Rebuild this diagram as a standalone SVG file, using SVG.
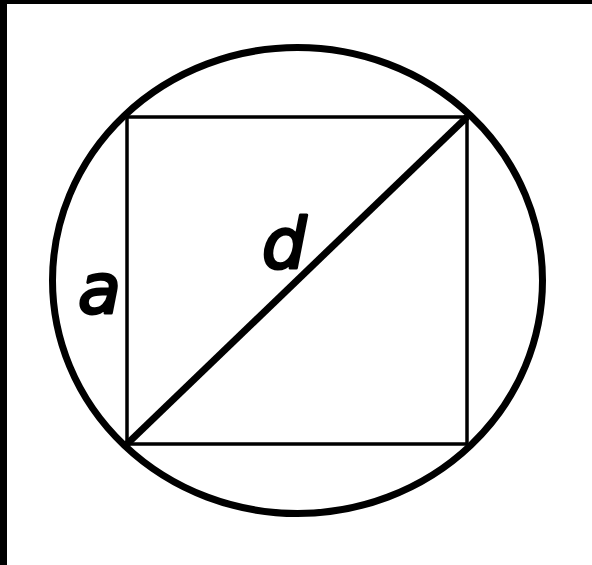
<svg xmlns="http://www.w3.org/2000/svg" width="592" height="565" viewBox="0 0 592 565">
<style>
.lbl{font-family:"DejaVu Sans",sans-serif;font-style:oblique;font-size:70px;fill:#000;stroke:#000;stroke-width:3;stroke-linejoin:round}
</style>
<rect x="0" y="0" width="592" height="565" fill="#fff"/>
<rect x="0" y="0" width="7" height="565" fill="#000"/>
<rect x="0" y="0" width="592" height="4" fill="#000"/>
<g id="circle"><ellipse cx="297.5" cy="280.5" rx="245" ry="233" fill="none" stroke="#000" stroke-width="7"/></g>
<g id="square"><rect x="127" y="117" width="340" height="327" fill="none" stroke="#000" stroke-width="3.5"/></g>
<g id="connectors"><line x1="127" y1="444" x2="467" y2="117" stroke="#000" stroke-width="7"/></g>
<g id="label-a"><text class="lbl" x="78" y="313">a</text></g>
<g id="label-d"><text class="lbl" x="262" y="268">d</text></g>
</svg>
